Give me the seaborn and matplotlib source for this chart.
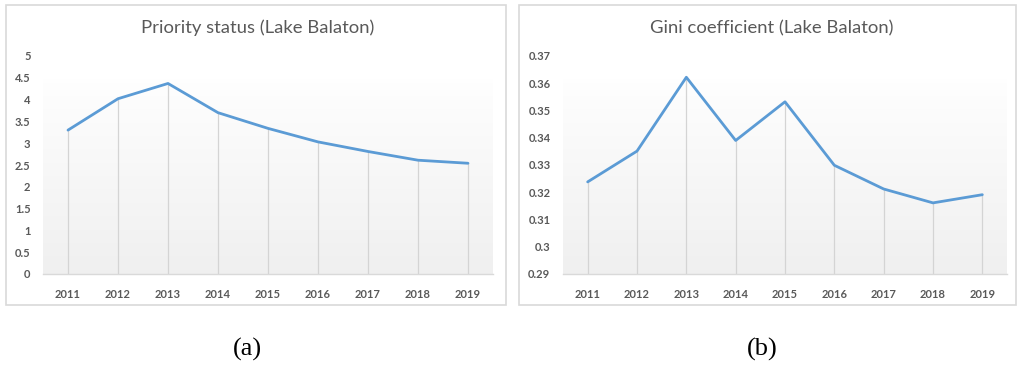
import numpy as np
import pandas as pd
import matplotlib
matplotlib.use("Agg")
import matplotlib.pyplot as plt
from matplotlib.patches import Rectangle
import seaborn as sns

# Yearly values for Lake Balaton
years = [2011, 2012, 2013, 2014, 2015, 2016, 2017, 2018, 2019]
priority_status = [3.30, 4.02, 4.37, 3.70, 3.34, 3.03, 2.81, 2.61, 2.54]
gini_coefficient = [0.3238, 0.3351, 0.3622, 0.3390, 0.3532, 0.3299, 0.3212, 0.3161, 0.3191]

priority_ticks = [0, 0.5, 1, 1.5, 2, 2.5, 3, 3.5, 4, 4.5, 5]
priority_labels = ["0", "0.5", "1", "1.5", "2", "2.5", "3", "3.5", "4", "4.5", "5"]
gini_ticks = [0.29, 0.30, 0.31, 0.32, 0.33, 0.34, 0.35, 0.36, 0.37]
gini_labels = ["0.29", "0.3", "0.31", "0.32", "0.33", "0.34", "0.35", "0.36", "0.37"]

titles = ["Priority status (Lake Balaton)", "Gini coefficient (Lake Balaton)"]
captions = ["(a)", "(b)"]

sns.set_theme(style="white")
plt.rcParams["font.family"] = ["Lato", "DejaVu Sans"]

LINE = "#5b9bd5"
TEXT = "#595959"
FRAME = "#d9d9d9"

W, H = 1017, 365
fig = plt.figure(figsize=(W / 100, H / 100), dpi=100)


def fx(px):
    return px / W


def fy(py):
    return 1 - py / H


# Chart frames
for x0, x1 in [(6, 506), (519, 1016)]:
    fig.patches.append(Rectangle((fx(x0), fy(305)), fx(x1 - x0), fy(5) - fy(305),
                                 transform=fig.transFigure, fill=False,
                                 edgecolor=FRAME, linewidth=1.2, zorder=0))

panels = [
    dict(x0=43, x1=493, vals=priority_status, ylim=(0, 5), ticks=priority_ticks,
         labels=priority_labels, title=titles[0], tcx=258, cap=captions[0], capx=247),
    dict(x0=563, x1=1007, vals=gini_coefficient, ylim=(0.29, 0.37), ticks=gini_ticks,
         labels=gini_labels, title=titles[1], tcx=772, cap=captions[1], capx=762),
]

grad = np.linspace(0.94, 0.997, 256).reshape(-1, 1)
grad_rgb = np.dstack([grad, grad, grad])

for p in panels:
    ax = fig.add_axes([fx(p["x0"]), fy(274), fx(p["x1"] - p["x0"]), fy(56) - fy(274)])
    ax.set_facecolor("none")
    df = pd.DataFrame({"year": years, "value": p["vals"]})

    # soft gradient plot-area fill
    ax.imshow(grad_rgb, extent=[0, 1, 0, 0.89], transform=ax.transAxes,
              aspect="auto", zorder=0, origin="lower")

    # drop lines from each point to the axis
    ax.vlines(df["year"], p["ylim"][0], df["value"], color="#d4d4d4",
              linewidth=0.9, zorder=1)

    sns.lineplot(data=df, x="year", y="value", ax=ax, color=LINE,
                 linewidth=2.0, zorder=3)

    ax.set_xlim(years[0] - 0.5, years[-1] + 0.5)
    ax.set_ylim(*p["ylim"])
    ax.set_xticks(years)
    ax.set_xticklabels([str(y) for y in years], fontsize=8, color=TEXT,
                       fontweight="bold")
    ax.set_yticks(p["ticks"])
    ax.set_yticklabels(p["labels"], fontsize=8, color=TEXT, fontweight="bold")
    ax.tick_params(axis="both", length=0)
    ax.tick_params(axis="x", pad=11)
    ax.tick_params(axis="y", pad=9)
    ax.set_xlabel("")
    ax.set_ylabel("")
    for side in ["top", "right", "left"]:
        ax.spines[side].set_visible(False)
    ax.spines["bottom"].set_color(FRAME)
    ax.spines["bottom"].set_linewidth(1.0)

    fig.text(fx(p["tcx"]), fy(28), p["title"], ha="center", va="center",
             fontsize=13.3, color=TEXT)
    fig.text(fx(p["capx"]), fy(349), p["cap"], ha="center", va="center",
             fontsize=19, color="black", family=["Liberation Serif", "DejaVu Serif"])

fig.savefig("out.png", dpi=100)
